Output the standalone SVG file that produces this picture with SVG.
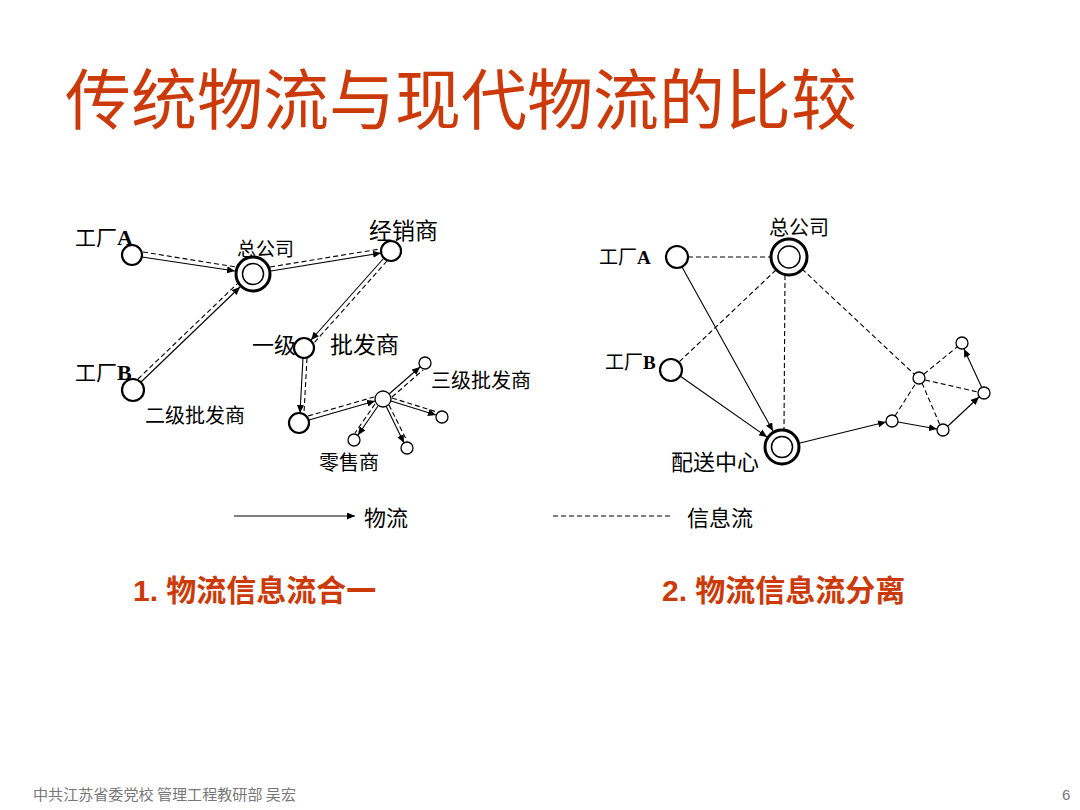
<svg xmlns="http://www.w3.org/2000/svg" width="1080" height="810" viewBox="0 0 1080 810">
<style>
.t{font-family:"Noto Sans CJK SC","Liberation Sans",sans-serif;fill:#000}
.lat{font-family:"Liberation Serif",serif;font-weight:bold}
.n{fill:#fff;stroke:#000;stroke-width:2.2}
.s{fill:#fff;stroke:#000;stroke-width:1.3}
.o{fill:#fff;stroke:#000;stroke-width:3}
.i{fill:none;stroke:#000;stroke-width:1.5}
.f{stroke:#000;stroke-width:1.1;fill:none;marker-end:url(#ah)}
.d{stroke:#000;stroke-width:1.1;fill:none;stroke-dasharray:5 3}
.red{font-family:"Noto Sans CJK SC","Liberation Sans",sans-serif;fill:#CC3A0A}
</style>
<defs>
<marker id="ah" markerUnits="userSpaceOnUse" markerWidth="9" markerHeight="7" refX="8" refY="3.5" orient="auto">
<path d="M0,0 L8,3.5 L0,7 Z" fill="#000"/>
</marker>
</defs>
<rect width="1080" height="810" fill="#fff"/>
<text class="red" x="65" y="124" font-size="66" textLength="792" lengthAdjust="spacingAndGlyphs">传统物流与现代物流的比较</text>

<g id="connectors">
<!-- left diagram -->
<line class="f" x1="142" y1="257" x2="235" y2="271"/>
<line class="d" x1="143" y1="252" x2="236" y2="267"/>
<line class="f" x1="141" y1="382" x2="240" y2="287"/>
<line class="d" x1="138" y1="379" x2="237" y2="284"/>
<line class="f" x1="271" y1="271" x2="381" y2="253"/>
<line class="d" x1="270" y1="267" x2="380" y2="249"/>
<line class="f" x1="384" y1="258" x2="311" y2="340"/>
<line class="d" x1="387" y1="261" x2="314" y2="343"/>
<line class="f" x1="303" y1="358" x2="300" y2="413"/>
<line class="d" x1="307" y1="358" x2="304" y2="413"/>
<line class="f" x1="309" y1="420" x2="375" y2="401"/>
<line class="d" x1="308" y1="416" x2="374" y2="397"/>
<line class="f" x1="389" y1="394" x2="420" y2="367"/>
<line class="d" x1="392" y1="397" x2="423" y2="370"/>
<line class="f" x1="391" y1="401" x2="436" y2="415"/>
<line class="d" x1="392" y1="398" x2="437" y2="412"/>
<line class="f" x1="378" y1="406" x2="358" y2="435"/>
<line class="d" x1="375" y1="404" x2="355" y2="433"/>
<line class="f" x1="386" y1="406" x2="404" y2="443"/>
<line class="d" x1="389" y1="405" x2="407" y2="441"/>
<!-- right diagram -->
<line class="d" x1="688" y1="257" x2="771" y2="257"/>
<line class="d" x1="776" y1="270" x2="679" y2="362"/>
<line class="d" x1="785" y1="275" x2="784" y2="429"/>
<line class="d" x1="802" y1="269" x2="914" y2="374"/>
<line class="f" x1="682" y1="267" x2="773" y2="431"/>
<line class="f" x1="680" y1="376" x2="767" y2="437"/>
<line class="f" x1="800" y1="443" x2="886" y2="422"/>
<line class="f" x1="898" y1="422" x2="937" y2="429"/>
<line class="f" x1="948" y1="426" x2="979" y2="397"/>
<line class="f" x1="982" y1="388" x2="964" y2="349"/>
<line class="d" x1="895" y1="416" x2="916" y2="383"/>
<line class="d" x1="924" y1="374" x2="957" y2="347"/>
<line class="d" x1="925" y1="380" x2="978" y2="392"/>
<line class="d" x1="922" y1="383" x2="940" y2="425"/>
<!-- legend -->
<line class="f" x1="234" y1="516" x2="355" y2="516"/>
<line class="d" x1="553" y1="516" x2="673" y2="516" stroke-dasharray="4 3" stroke-width="0.9"/>
</g>

<!-- left diagram nodes -->
<g id="L-factoryA"><circle class="n" cx="132" cy="255" r="10"/><text class="t" x="75" y="245" font-size="21">工厂<tspan class="lat" font-size="22">A</tspan></text></g>
<g id="L-hq"><circle class="o" cx="253" cy="274" r="17"/><circle class="i" cx="253" cy="274" r="10.5"/><text class="t" x="237" y="256" font-size="19">总公司</text></g>
<g id="L-dealer"><circle class="n" cx="391" cy="251" r="10"/><text class="t" x="369" y="239" font-size="23">经销商</text></g>
<g id="L-whole1"><circle class="n" cx="304" cy="348" r="10"/><text class="t" x="252" y="353" font-size="22">一级</text><text class="t" x="330" y="353" font-size="23">批发商</text></g>
<g id="L-factoryB"><circle class="n" cx="133" cy="390" r="11"/><text class="t" x="75" y="380" font-size="21">工厂<tspan class="lat" font-size="22">B</tspan></text></g>
<g id="L-whole2"><circle class="n" cx="299" cy="423" r="10"/><text class="t" x="145" y="423" font-size="20">二级批发商</text></g>
<g id="L-whole3"><circle class="s" cx="383" cy="399" r="8"/><text class="t" x="431" y="388" font-size="20">三级批发商</text></g>
<g id="L-r1"><circle class="s" cx="425" cy="363" r="6"/></g>
<g id="L-r2"><circle class="s" cx="442" cy="417" r="6"/></g>
<g id="L-r3"><circle class="s" cx="354" cy="440" r="6"/></g>
<g id="L-r4"><circle class="s" cx="407" cy="448" r="6"/><text class="t" x="319" y="470" font-size="20">零售商</text></g>

<!-- right diagram nodes -->
<g id="R-factoryA"><circle class="n" cx="677" cy="257" r="11"/><text class="t" x="599" y="264" font-size="19">工厂<tspan class="lat" font-size="19">A</tspan></text></g>
<g id="R-hq"><circle class="o" cx="789" cy="257" r="18"/><circle class="i" cx="789" cy="257" r="11"/><text class="t" x="769" y="235" font-size="20">总公司</text></g>
<g id="R-factoryB"><circle class="n" cx="671" cy="370" r="11"/><text class="t" x="605" y="369" font-size="19">工厂<tspan class="lat" font-size="19">B</tspan></text></g>
<g id="R-dc"><circle class="o" cx="782" cy="447" r="17"/><circle class="i" cx="782" cy="447" r="10.5"/><text class="t" x="671" y="470" font-size="22">配送中心</text></g>
<g id="R-s1"><circle class="s" cx="892" cy="421" r="6"/></g>
<g id="R-s2"><circle class="s" cx="919" cy="378" r="6"/></g>
<g id="R-s3"><circle class="s" cx="962" cy="343" r="6"/></g>
<g id="R-s4"><circle class="s" cx="984" cy="393" r="6"/></g>
<g id="R-s5"><circle class="s" cx="943" cy="430" r="6"/></g>

<g id="legend">
<text class="t" x="364" y="526" font-size="22">物流</text>
<text class="t" x="687" y="526" font-size="22">信息流</text>
</g>

<text class="red" x="133" y="601" font-size="30" font-weight="bold"><tspan font-family="Liberation Sans">1. </tspan>物流信息流合一</text>
<text class="red" x="662" y="601" font-size="30" font-weight="bold"><tspan font-family="Liberation Sans">2. </tspan>物流信息流分离</text>

<text class="t" x="33" y="800" font-size="15" fill="#777" style="fill:#777" textLength="263" lengthAdjust="spacingAndGlyphs">中共江苏省委党校 管理工程教研部 吴宏</text>
<text x="1062" y="800" font-size="15" font-family="Liberation Sans Narrow,Liberation Sans,sans-serif" fill="#777">6</text>
</svg>
